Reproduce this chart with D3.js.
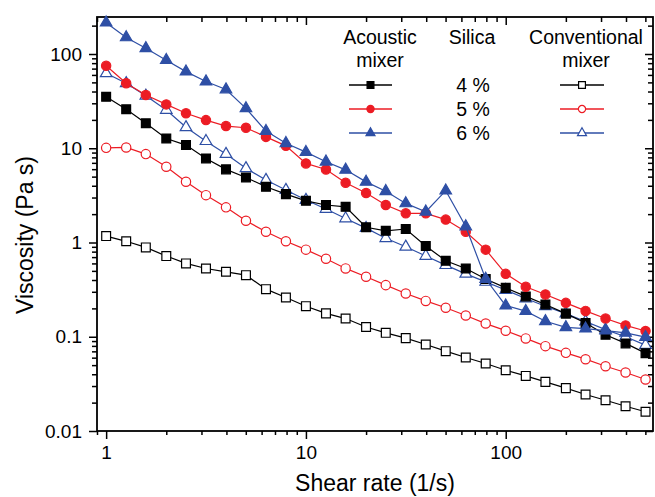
<!DOCTYPE html>
<html>
<head>
<meta charset="utf-8">
<script src="https://cdn.jsdelivr.net/npm/d3@7"></script>
<style>
  body { margin: 0; background: #fff; }
  svg { display: block; font-family: "Liberation Sans", Arial, sans-serif; }
</style>
</head>
<body>
<div id="chart"></div>
<script>
// shear rate points (1/s), 10 per decade
const shearRate = [1, 1.26, 1.58, 2, 2.51, 3.16, 3.98, 5.01, 6.31, 7.94,
  10, 12.6, 15.8, 20, 25.1, 31.6, 39.8, 50.1, 63.1, 79.4,
  100, 126, 158, 200, 251, 316, 398, 501];

// viscosity (Pa s), acoustic mixer
const acoustic4 = [35.2, 25.9, 18.4, 12.7, 10.8, 7.8, 5.97, 4.9, 3.9, 3.26,
  2.77, 2.5, 2.39, 1.45, 1.33, 1.39, 0.92, 0.64, 0.53, 0.41,
  0.33, 0.268, 0.22, 0.176, 0.14, 0.105, 0.085, 0.067];
const acoustic5 = [75, 49, 36.7, 29.2, 23.5, 19.9, 17.2, 16.5, 13.2, 10.6,
  6.9, 5.95, 4.3, 3.35, 2.5, 2.04, 2.04, 1.75, 1.3, 0.84,
  0.465, 0.339, 0.281, 0.229, 0.188, 0.156, 0.132, 0.115];
const acoustic6 = [215, 150, 115, 86, 65, 51, 42, 26.5, 15.2, 11.3,
  9.1, 7.2, 5.9, 4.4, 3.5, 2.6, 2.12, 3.55, 1.48, 0.41,
  0.214, 0.187, 0.146, 0.126, 0.122, 0.116, 0.11, 0.099];

// viscosity (Pa s), conventional mixer
const conventional4 = [1.17, 1.03, 0.887, 0.718, 0.6, 0.53, 0.489, 0.45, 0.32, 0.261,
  0.211, 0.177, 0.156, 0.127, 0.11, 0.0967, 0.0828, 0.0703, 0.0602, 0.052,
  0.0441, 0.0384, 0.0332, 0.0285, 0.0244, 0.0212, 0.0183, 0.016];
const conventional5 = [10.1, 10.2, 8.67, 6.36, 4.41, 3.18, 2.36, 1.7, 1.3, 1.03,
  0.84, 0.672, 0.531, 0.433, 0.353, 0.288, 0.24, 0.203, 0.168, 0.138,
  0.116, 0.096, 0.0795, 0.0675, 0.0578, 0.0487, 0.0418, 0.0352];
const conventional6 = [62.4, 48.9, 36, 25.5, 16.7, 11.9, 8.67, 6.12, 4.6, 3.6,
  2.82, 2.27, 1.8, 1.42, 1.11, 0.9, 0.72, 0.575, 0.465, 0.382,
  0.313, 0.255, 0.211, 0.176, 0.145, 0.119, 0.1, 0.0815];

const silicaLabels = ["4 %", "5 %", "6 %"];
const xTickValues = [1, 10, 100];
const xTickLabels = ["1", "10", "100"];
const yTickValues = [0.01, 0.1, 1, 10, 100];
const yTickLabels = ["0.01", "0.1", "1", "10", "100"];

const width = 655;
const height = 497;
const plot = { left: 97, right: 653, top: 17, bottom: 431 };

const colors = ["#000000", "#ec1c24", "#2e4fa5"];
const shapes = [d3.symbolSquare, d3.symbolCircle, d3.symbolTriangle];
const sizes = [78, 68, 58];

const svg = d3.select("#chart")
  .append("svg")
  .attr("width", width)
  .attr("height", height);

svg.append("rect").attr("width", width).attr("height", height).attr("fill", "#fff");

// log scales
const x = d3.scaleLog().domain([0.9, 546]).range([plot.left, plot.right]);
const y = d3.scaleLog().domain([0.01, 247]).range([plot.bottom, plot.top]);

// minor ticks: 2..9 in each decade within domain
function minorTicks(scale) {
  const [a, b] = scale.domain();
  const out = [];
  for (let e = Math.floor(Math.log10(a)); e <= Math.ceil(Math.log10(b)); e++) {
    for (let m = 2; m <= 9; m++) {
      const v = m * Math.pow(10, e);
      if (v >= a && v <= b) out.push(+v.toPrecision(3));
    }
  }
  return out;
}

function drawAxis(axisFn, transform, values, size, pad, labels) {
  const ax = axisFn.tickValues(values).tickSize(size).tickPadding(pad)
    .tickFormat(labels ? (d, i) => labels[i] : "");
  const g = svg.append("g").attr("transform", transform).call(ax);
  g.select(".domain").remove();
  g.selectAll(".tick line").attr("stroke", "#000").attr("stroke-width", 1.5);
  g.selectAll(".tick text").attr("fill", "#000").attr("font-size", 19)
    .attr("font-family", "Liberation Sans, Arial, sans-serif");
  return g;
}

// bottom (outward) and top (inward)
drawAxis(d3.axisBottom(x), `translate(0,${plot.bottom})`, xTickValues, 8, 7, xTickLabels);
drawAxis(d3.axisBottom(x), `translate(0,${plot.bottom})`, minorTicks(x), 4, 0, null);
drawAxis(d3.axisBottom(x), `translate(0,${plot.top})`, xTickValues, 8, 0, null);
drawAxis(d3.axisBottom(x), `translate(0,${plot.top})`, minorTicks(x), 5, 0, null);
// left (outward) and right (inward)
drawAxis(d3.axisLeft(y), `translate(${plot.left},0)`, yTickValues, 8, 7, yTickLabels);
drawAxis(d3.axisLeft(y), `translate(${plot.left},0)`, minorTicks(y), 5, 0, null);
drawAxis(d3.axisLeft(y), `translate(${plot.right},0)`, yTickValues, 8, 0, null);
drawAxis(d3.axisLeft(y), `translate(${plot.right},0)`, minorTicks(y), 5, 0, null);

// frame
svg.append("rect")
  .attr("x", plot.left).attr("y", plot.top)
  .attr("width", plot.right - plot.left).attr("height", plot.bottom - plot.top)
  .attr("fill", "none").attr("stroke", "#000").attr("stroke-width", 1.8);

// series
const series = [
  { values: conventional4, idx: 0, filled: false },
  { values: conventional5, idx: 1, filled: false },
  { values: conventional6, idx: 2, filled: false },
  { values: acoustic4, idx: 0, filled: true },
  { values: acoustic5, idx: 1, filled: true },
  { values: acoustic6, idx: 2, filled: true }
];

const line = d3.line().x(d => x(d[0])).y(d => y(d[1]));

series.forEach(s => {
  const pts = shearRate.map((r, i) => [r, s.values[i]]);
  const col = colors[s.idx];
  svg.append("path")
    .datum(pts)
    .attr("d", line)
    .attr("fill", "none")
    .attr("stroke", col)
    .attr("stroke-width", 1.2);

  svg.append("g").selectAll("path")
    .data(pts)
    .enter()
    .append("path")
    .attr("transform", d => `translate(${x(d[0])},${y(d[1])})`)
    .attr("d", d3.symbol().type(shapes[s.idx]).size(sizes[s.idx]))
    .attr("fill", s.filled ? col : "#fff")
    .attr("stroke", col)
    .attr("stroke-width", 1.2);
});

// legend
const legend = svg.append("g").attr("font-size", 19.5).attr("fill", "#000");
const headers = [
  { lines: ["Acoustic", "mixer"], cx: 380 },
  { lines: ["Silica"], cx: 472 },
  { lines: ["Conventional", "mixer"], cx: 586 }
];
headers.forEach(h => {
  h.lines.forEach((t, i) => {
    legend.append("text")
      .attr("x", h.cx).attr("y", 44 + i * 22.5)
      .attr("text-anchor", "middle")
      .text(t);
  });
});

silicaLabels.forEach((lab, i) => {
  const ly = 85 + i * 24;
  legend.append("text")
    .attr("x", 473).attr("y", ly + 6.5)
    .attr("text-anchor", "middle")
    .text(lab);
  [{ x0: 349, x1: 392, filled: true }, { x0: 560, x1: 604, filled: false }].forEach(k => {
    legend.append("line")
      .attr("x1", k.x0).attr("x2", k.x1)
      .attr("y1", ly).attr("y2", ly)
      .attr("stroke", colors[i]).attr("stroke-width", 1.5);
    legend.append("path")
      .attr("transform", `translate(${(k.x0 + k.x1) / 2},${ly})`)
      .attr("d", d3.symbol().type(shapes[i]).size(sizes[i] * 0.6))
      .attr("fill", k.filled ? colors[i] : "#fff")
      .attr("stroke", colors[i])
      .attr("stroke-width", 1.2);
  });
});

// axis titles
svg.append("text")
  .attr("x", (plot.left + plot.right) / 2).attr("y", 491)
  .attr("text-anchor", "middle")
  .attr("font-size", 23)
  .text("Shear rate (1/s)");

svg.append("text")
  .attr("transform", `translate(33,235) rotate(-90)`)
  .attr("text-anchor", "middle")
  .attr("font-size", 23)
  .text("Viscosity (Pa s)");
</script>
</body>
</html>
